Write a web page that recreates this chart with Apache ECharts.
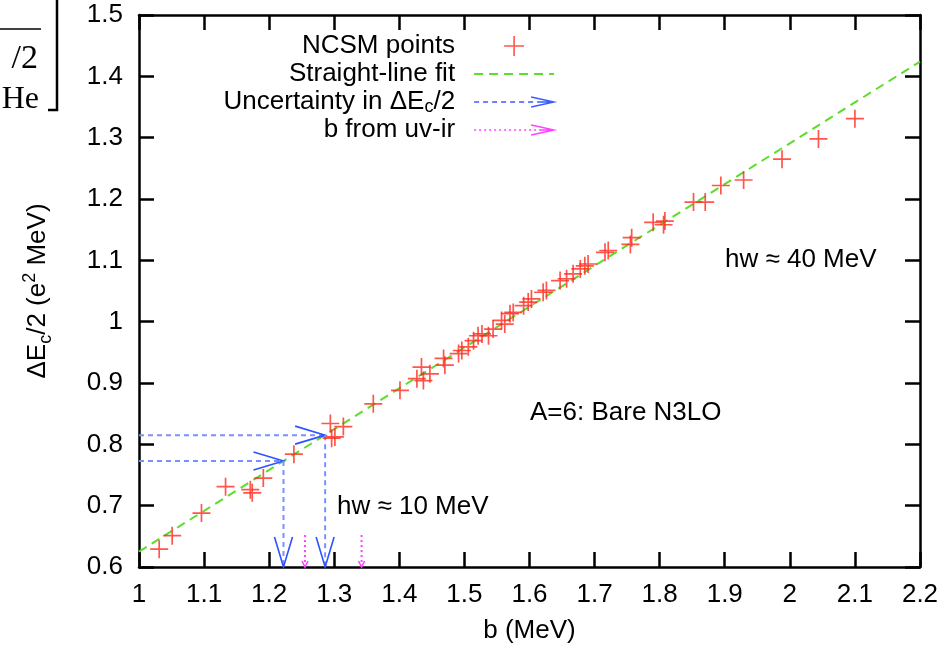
<!DOCTYPE html>
<html>
<head>
<meta charset="utf-8">
<script src="https://cdn.jsdelivr.net/npm/echarts@6/dist/echarts.min.js"></script>
<style>
html, body { margin: 0; padding: 0; background: #fff; }
#main { width: 947px; height: 649px; }
</style>
</head>
<body>
<div id="main"></div>
<script>
// NCSM points: b (MeV) and dEc/2 (e^2 MeV)
const ncsmB = [1.031, 1.051, 1.096, 1.133, 1.171, 1.174, 1.191, 1.238, 1.294, 1.314,
  1.296, 1.301, 1.360, 1.401, 1.427, 1.434, 1.437, 1.447, 1.468, 1.470,
  1.491, 1.496, 1.506, 1.514, 1.521, 1.527, 1.537, 1.544, 1.557, 1.562,
  1.570, 1.575, 1.591, 1.598, 1.603, 1.621, 1.626, 1.647, 1.657, 1.667,
  1.678, 1.685, 1.690, 1.716, 1.721, 1.755, 1.757, 1.790, 1.808, 1.806,
  1.852, 1.870, 1.894, 1.929, 1.988, 2.044, 2.100];
const ncsmE = [0.629, 0.651, 0.688, 0.731, 0.726, 0.721, 0.745, 0.784, 0.834, 0.829,
  0.810, 0.812, 0.866, 0.888, 0.907, 0.926, 0.904, 0.915, 0.940, 0.929,
  0.948, 0.953, 0.959, 0.969, 0.977, 0.980, 0.977, 0.988, 1.002, 0.996,
  1.013, 1.015, 1.026, 1.032, 1.037, 1.048, 1.051, 1.067, 1.070, 1.078,
  1.086, 1.091, 1.094, 1.113, 1.116, 1.126, 1.137, 1.162, 1.164, 1.158,
  1.195, 1.195, 1.222, 1.231, 1.265, 1.298, 1.331];

// straight-line fit end points
const fitB = [1.0, 2.2];
const fitE = [0.625, 1.424];

// arrows [b1, e1, b2, e2]
const uncArrows = [
  [1.0, 0.773, 1.222, 0.773],
  [1.222, 0.773, 1.222, 0.6],
  [1.0, 0.815, 1.286, 0.815],
  [1.286, 0.815, 1.286, 0.6]
];
const uvirArrows = [
  [1.255, 0.652, 1.255, 0.6],
  [1.342, 0.652, 1.342, 0.6]
];

// axis ranges
const xMin = 1.0, xMax = 2.2, xStep = 0.1;
const yMin = 0.6, yMax = 1.5, yStep = 0.1;

const FONT = 'Liberation Sans';
const RED = '#ff2a1f';
const GREEN = '#5ddc2a';
const BLUE_LINE = '#7891ff';
const BLUE_HEAD = '#2f52ff';
const MAGENTA = '#ff44ff';

var myChart = echarts.init(document.getElementById('main'));

function arrowRender(headLen, headHalf, lineColor, headColor, dash, width) {
  return function (params, api) {
    var p1 = api.coord([api.value(0), api.value(1)]);
    var p2 = api.coord([api.value(2), api.value(3)]);
    var dx = p2[0] - p1[0], dy = p2[1] - p1[1];
    var len = Math.sqrt(dx * dx + dy * dy);
    var ux = dx / len, uy = dy / len;
    var nx = -uy, ny = ux;
    var bx = p2[0] - ux * headLen, by = p2[1] - uy * headLen;
    return {
      type: 'group',
      children: [
        {
          type: 'line',
          shape: { x1: p1[0], y1: p1[1], x2: p2[0], y2: p2[1] },
          style: { stroke: lineColor, lineWidth: width, lineDash: dash }
        },
        {
          type: 'polyline',
          shape: { points: [[bx + nx * headHalf, by + ny * headHalf], p2, [bx - nx * headHalf, by - ny * headHalf]] },
          style: { stroke: headColor, lineWidth: 1.6, fill: null }
        }
      ]
    };
  };
}

var axisCommon = {
  axisLine: { onZero: false, lineStyle: { color: '#000', width: 2.5 } },
  axisTick: { inside: true, length: 15, lineStyle: { color: '#000', width: 2.5 } },
  splitLine: { show: false }
};

myChart.setOption({
  animation: false,
  backgroundColor: '#fff',
  grid: { left: 139, right: 27, top: 15, bottom: 80 },
  legend: {
    orient: 'vertical',
    align: 'right',
    right: 392,
    top: 32,
    padding: 0,
    itemWidth: 80,
    itemHeight: 20,
    itemGap: 0,
    selectedMode: false,
    formatter: function (name) {
      return name.replace('ΔEc', 'ΔE{sub|c}');
    },
    textStyle: {
      fontFamily: FONT, fontSize: 26, color: '#000', padding: [0, 14, 0, 0], lineHeight: 28,
      rich: {
        sub: { fontFamily: FONT, fontSize: 18, color: '#000', lineHeight: 28, verticalAlign: 'bottom' }
      }
    },
    data: [
      { name: 'NCSM points', icon: 'path://M0,0M80,20M30,10L50,10M40,0L40,20',
        itemStyle: { color: 'rgba(0,0,0,0)', borderColor: RED, borderWidth: 1.6 } },
      { name: 'Straight-line fit',
        icon: 'path://M0,0M80,20M0,10L9,10M15,10L24,10M30,10L39,10M45,10L54,10M60,10L69,10M75,10L80,10',
        itemStyle: { color: 'rgba(0,0,0,0)', borderColor: GREEN, borderWidth: 1.8 } },
      { name: 'Uncertainty in ΔEc/2',
        icon: 'path://M0,0M80,20M0,10L5,10M9,10L14,10M18,10L23,10M27,10L32,10M36,10L41,10M45,10L50,10M54,10L59,10M63,10L80,10M57,5L80,10L57,15',
        itemStyle: { color: 'rgba(0,0,0,0)', borderColor: '#3a5cff', borderWidth: 1.4 } },
      { name: 'b from uv-ir',
        icon: 'path://M0,0M80,20M0,10L2,10M5,10L7,10M10,10L12,10M15,10L17,10M20,10L22,10M25,10L27,10M30,10L32,10M35,10L37,10M40,10L42,10M45,10L47,10M50,10L52,10M55,10L57,10M60,10L62,10M65,10L80,10M57,5L80,10L57,15',
        itemStyle: { color: 'rgba(0,0,0,0)', borderColor: MAGENTA, borderWidth: 1.4 } }
    ]
  },
  xAxis: [
    Object.assign({
      type: 'value', min: xMin, max: xMax, interval: xStep,
      name: 'b (MeV)', nameLocation: 'middle', nameGap: 51,
      nameTextStyle: { fontFamily: FONT, fontSize: 26, color: '#000' },
      axisLabel: { fontFamily: FONT, fontSize: 26, color: '#000', margin: 15 }
    }, axisCommon),
    Object.assign({
      type: 'value', position: 'top', min: xMin, max: xMax, interval: xStep,
      axisLabel: { show: false }
    }, axisCommon)
  ],
  yAxis: [
    Object.assign({
      type: 'value', min: yMin, max: yMax, interval: yStep,
      name: 'ΔE{sub|c}/2 (e{sup|2} MeV)', nameLocation: 'middle', nameGap: 84, nameRotate: 90,
      nameTextStyle: {
        fontFamily: FONT, fontSize: 26, color: '#000', lineHeight: 34,
        rich: {
          sub: { fontFamily: FONT, fontSize: 18, color: '#000', lineHeight: 34, verticalAlign: 'bottom' },
          sup: { fontFamily: FONT, fontSize: 18, color: '#000', lineHeight: 34, verticalAlign: 'top' }
        }
      },
      axisLabel: { fontFamily: FONT, fontSize: 26, color: '#000', margin: 16 }
    }, axisCommon),
    Object.assign({
      type: 'value', position: 'right', min: yMin, max: yMax, interval: yStep,
      axisLabel: { show: false }
    }, axisCommon)
  ],
  series: [
    {
      name: 'Straight-line fit',
      type: 'line',
      data: fitB.map(function (b, i) { return [b, fitE[i]]; }),
      symbol: 'none',
      z: 1,
      lineStyle: { color: GREEN, width: 2, type: [9, 6] },
      itemStyle: { color: GREEN }
    },
    {
      name: 'Uncertainty in ΔEc/2',
      type: 'custom',
      data: uncArrows,
      encode: { x: [0, 2], y: [1, 3] },
      renderItem: arrowRender(30, 9, BLUE_LINE, BLUE_HEAD, [5, 4], 2),
      itemStyle: { color: BLUE_HEAD },
      z: 2
    },
    {
      name: 'b from uv-ir',
      type: 'custom',
      data: uvirArrows,
      encode: { x: [0, 2], y: [1, 3] },
      renderItem: arrowRender(6, 3, MAGENTA, MAGENTA, [2, 3], 2),
      itemStyle: { color: MAGENTA },
      z: 2
    },
    {
      name: 'NCSM points',
      type: 'scatter',
      data: ncsmB.map(function (b, i) { return [b, ncsmE[i]]; }),
      symbol: 'path://M0,9L18,9M9,0L9,18',
      symbolSize: 18,
      itemStyle: { color: 'rgba(0,0,0,0)', borderColor: RED, borderWidth: 1.7 },
      z: 3
    }
  ],
  graphic: [
    { type: 'text', x: 725, y: 260, style: { text: 'hw ≈ 40 MeV', font: '26px "Liberation Sans"', fill: '#000', verticalAlign: 'middle' } },
    { type: 'text', x: 530, y: 413, style: { text: 'A=6: Bare N3LO', font: '26px "Liberation Sans"', fill: '#000', verticalAlign: 'middle' } },
    { type: 'text', x: 337, y: 507, style: { text: 'hw ≈ 10 MeV', font: '26px "Liberation Sans"', fill: '#000', verticalAlign: 'middle' } },
    // clipped fragment of the neighbouring figure (top-left)
    { type: 'line', shape: { x1: 0, y1: 29, x2: 41, y2: 29 }, style: { stroke: '#000', lineWidth: 1.5 } },
    { type: 'text', x: 38, y: 59, style: { text: '/2', font: '34px "Liberation Serif"', fill: '#000', align: 'right', verticalAlign: 'middle' } },
    { type: 'text', x: 39, y: 100, style: { text: 'He', font: '32px "Liberation Serif"', fill: '#000', align: 'right', verticalAlign: 'middle' } },
    { type: 'polyline', shape: { points: [[57, 0], [57, 110], [48, 110]] }, style: { stroke: '#000', lineWidth: 2.5, fill: null } }
  ]
});
</script>
</body>
</html>
